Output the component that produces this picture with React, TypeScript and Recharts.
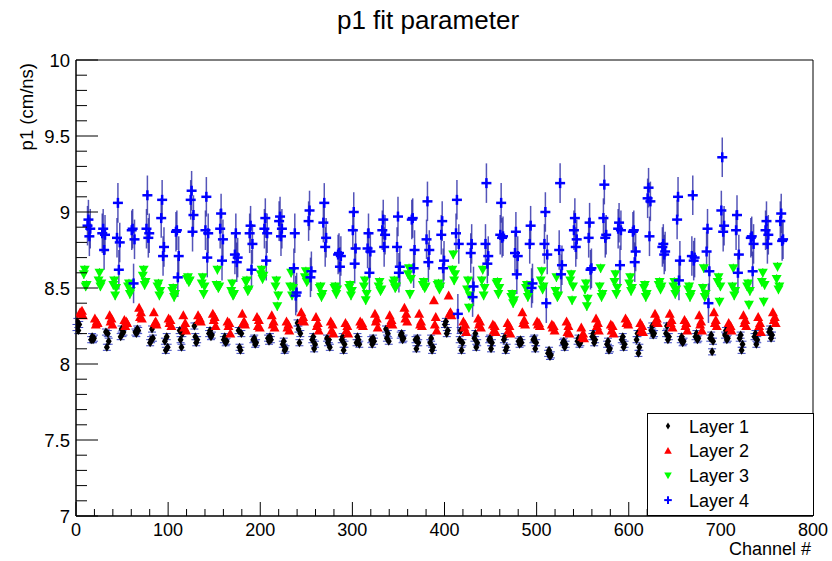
import React from 'react';
import { ScatterChart, Scatter, XAxis, YAxis, ErrorBar, ReferenceArea } from 'recharts';

// p1 fit parameter per channel, four readings per 16-channel block and layer
const LAYER1 = [
  [8.24, 8.28, 8.22, 8.26], [8.16, 8.18, 8.16, 8.17], [8.21, 8.11, 8.20, 8.15], [8.18, 8.23, 8.20, 8.21],
  [8.21, 8.20, 8.23, 8.22], [8.14, 8.16, 8.23, 8.17], [8.15, 8.09, 8.18, 8.11], [8.22, 8.16, 8.11, 8.20],
  [8.25, 8.18, 8.14, 8.16], [8.20, 8.22, 8.18, 8.19], [8.16, 8.18, 8.14, 8.15], [8.22, 8.11, 8.09, 8.20],
  [8.16, 8.17, 8.13, 8.14], [8.17, 8.15, 8.18, 8.16], [8.13, 8.15, 8.09, 8.10], [8.27, 8.23, 8.14, 8.20],
  [8.16, 8.18, 8.10, 8.13], [8.17, 8.14, 8.16, 8.11], [8.16, 8.18, 8.09, 8.13], [8.14, 8.18, 8.16, 8.13],
  [8.16, 8.13, 8.17, 8.15], [8.23, 8.17, 8.20, 8.15], [8.19, 8.20, 8.16, 8.17], [8.16, 8.10, 8.17, 8.14],
  [8.14, 8.17, 8.09, 8.11], [8.26, 8.28, 8.20, 8.22], [8.16, 8.22, 8.09, 8.14], [8.17, 8.20, 8.11, 8.14],
  [8.16, 8.17, 8.10, 8.14], [8.16, 8.18, 8.09, 8.11], [8.15, 8.13, 8.16, 8.14], [8.16, 8.17, 8.10, 8.14],
  [8.07, 8.09, 8.05, 8.06], [8.14, 8.15, 8.11, 8.13], [8.15, 8.17, 8.13, 8.14], [8.18, 8.20, 8.14, 8.16],
  [8.13, 8.15, 8.09, 8.10], [8.16, 8.18, 8.11, 8.13], [8.16, 8.20, 8.07, 8.11], [8.22, 8.25, 8.19, 8.20],
  [8.20, 8.25, 8.16, 8.18], [8.16, 8.18, 8.14, 8.15], [8.18, 8.20, 8.16, 8.17], [8.17, 8.19, 8.08, 8.15],
  [8.19, 8.22, 8.16, 8.17], [8.17, 8.19, 8.09, 8.13], [8.18, 8.20, 8.13, 8.16], [8.21, 8.23, 8.17, 8.19],
];

const LAYER2 = [
  [8.34, 8.33, 8.35, 8.32], [8.30, 8.26, 8.28, 8.27], [8.32, 8.28, 8.30, 8.26], [8.29, 8.25, 8.28, 8.27],
  [8.37, 8.31, 8.34, 8.30], [8.34, 8.27, 8.28, 8.26], [8.30, 8.27, 8.29, 8.25], [8.32, 8.24, 8.27, 8.22],
  [8.32, 8.29, 8.30, 8.28], [8.33, 8.29, 8.31, 8.25], [8.28, 8.25, 8.27, 8.20], [8.33, 8.27, 8.28, 8.26],
  [8.31, 8.25, 8.29, 8.24], [8.32, 8.26, 8.28, 8.24], [8.28, 8.24, 8.26, 8.22], [8.34, 8.29, 8.31, 8.28],
  [8.31, 8.25, 8.27, 8.22], [8.28, 8.22, 8.26, 8.20], [8.27, 8.22, 8.25, 8.20], [8.28, 8.26, 8.27, 8.25],
  [8.33, 8.28, 8.30, 8.24], [8.32, 8.27, 8.29, 8.26], [8.37, 8.30, 8.33, 8.28], [8.33, 8.26, 8.28, 8.25],
  [8.42, 8.26, 8.31, 8.22], [8.45, 8.33, 8.34, 8.32], [8.28, 8.24, 8.26, 8.21], [8.30, 8.26, 8.28, 8.24],
  [8.26, 8.22, 8.25, 8.21], [8.27, 8.22, 8.25, 8.20], [8.34, 8.27, 8.29, 8.26], [8.28, 8.26, 8.27, 8.25],
  [8.26, 8.24, 8.25, 8.22], [8.28, 8.21, 8.25, 8.20], [8.24, 8.18, 8.20, 8.17], [8.30, 8.25, 8.27, 8.22],
  [8.26, 8.22, 8.25, 8.20], [8.30, 8.27, 8.28, 8.26], [8.27, 8.22, 8.25, 8.21], [8.33, 8.28, 8.30, 8.27],
  [8.33, 8.27, 8.29, 8.24], [8.29, 8.25, 8.27, 8.22], [8.32, 8.26, 8.28, 8.22], [8.34, 8.27, 8.29, 8.25],
  [8.27, 8.24, 8.25, 8.22], [8.32, 8.27, 8.29, 8.25], [8.31, 8.25, 8.27, 8.21], [8.34, 8.29, 8.31, 8.27],
];

const LAYER3 = [
  [8.59, 8.62, 8.51, 8.52], [8.55, 8.60, 8.51, 8.53], [8.52, 8.55, 8.45, 8.50], [8.51, 8.53, 8.46, 8.48],
  [8.58, 8.62, 8.52, 8.54], [8.51, 8.53, 8.45, 8.48], [8.48, 8.50, 8.44, 8.46], [8.56, 8.57, 8.54, 8.55],
  [8.53, 8.57, 8.46, 8.51], [8.52, 8.62, 8.50, 8.51], [8.48, 8.53, 8.45, 8.46], [8.54, 8.55, 8.48, 8.49],
  [8.59, 8.62, 8.56, 8.58], [8.51, 8.55, 8.38, 8.45], [8.51, 8.60, 8.45, 8.50], [8.57, 8.61, 8.54, 8.55],
  [8.50, 8.51, 8.44, 8.46], [8.50, 8.51, 8.46, 8.49], [8.50, 8.52, 8.45, 8.48], [8.51, 8.55, 8.42, 8.46],
  [8.51, 8.54, 8.48, 8.49], [8.53, 8.55, 8.50, 8.51], [8.59, 8.63, 8.46, 8.56], [8.52, 8.54, 8.50, 8.51],
  [8.52, 8.53, 8.49, 8.51], [8.62, 8.72, 8.55, 8.59], [8.49, 8.55, 8.37, 8.45], [8.55, 8.62, 8.45, 8.50],
  [8.53, 8.54, 8.46, 8.50], [8.44, 8.46, 8.40, 8.42], [8.50, 8.52, 8.44, 8.46], [8.55, 8.61, 8.49, 8.51],
  [8.48, 8.57, 8.44, 8.45], [8.55, 8.59, 8.42, 8.51], [8.49, 8.53, 8.38, 8.43], [8.51, 8.63, 8.44, 8.46],
  [8.54, 8.59, 8.46, 8.50], [8.53, 8.57, 8.48, 8.50], [8.50, 8.52, 8.44, 8.46], [8.52, 8.54, 8.49, 8.51],
  [8.51, 8.54, 8.46, 8.49], [8.49, 8.51, 8.44, 8.46], [8.50, 8.63, 8.44, 8.46], [8.54, 8.57, 8.41, 8.51],
  [8.51, 8.63, 8.45, 8.48], [8.51, 8.53, 8.39, 8.48], [8.54, 8.60, 8.41, 8.52], [8.56, 8.64, 8.49, 8.51],
];

const LAYER4 = [
  [8.91, 8.95, 8.84, 8.89], [8.86, 8.89, 8.75, 8.85], [8.83, 9.06, 8.62, 8.80], [8.88, 8.89, 8.53, 8.82],
  [8.89, 9.11, 8.83, 8.86], [8.96, 9.08, 8.71, 8.77], [8.87, 8.88, 8.57, 8.71], [9.08, 9.14, 8.87, 8.98],
  [8.88, 9.10, 8.70, 8.86], [8.89, 8.99, 8.68, 8.82], [8.72, 8.86, 8.67, 8.70], [8.86, 8.91, 8.62, 8.79],
  [8.89, 8.96, 8.68, 8.86], [8.94, 8.97, 8.84, 8.89], [8.63, 8.86, 8.45, 8.47], [8.94, 9.01, 8.57, 8.61],
  [8.93, 9.06, 8.77, 8.83], [8.72, 8.73, 8.64, 8.71], [8.88, 9.00, 8.66, 8.76], [8.76, 8.86, 8.60, 8.74],
  [8.88, 8.95, 8.77, 8.85], [8.77, 8.97, 8.60, 8.64], [8.95, 8.96, 8.63, 8.75], [8.82, 9.07, 8.67, 8.75],
  [8.85, 8.94, 8.63, 8.68], [8.86, 9.08, 8.33, 8.79], [8.73, 8.79, 8.44, 8.51], [8.79, 9.19, 8.66, 8.71],
  [8.85, 9.06, 8.83, 8.84], [8.73, 8.87, 8.59, 8.71], [8.79, 8.91, 8.50, 8.53], [8.79, 9.00, 8.40, 8.72],
  [8.75, 9.19, 8.59, 8.65], [8.88, 8.96, 8.77, 8.82], [8.83, 8.93, 8.62, 8.63], [8.96, 9.18, 8.83, 8.85],
  [8.89, 8.93, 8.65, 8.88], [8.87, 8.88, 8.67, 8.74], [9.09, 9.16, 8.84, 9.07], [8.77, 8.79, 8.72, 8.74],
  [8.95, 9.10, 8.55, 8.68], [8.71, 9.11, 8.68, 8.70], [8.74, 8.89, 8.40, 8.61], [9.01, 9.36, 8.87, 8.91],
  [8.88, 8.98, 8.60, 8.72], [8.83, 8.84, 8.61, 8.79], [8.88, 8.94, 8.79, 8.85], [8.94, 8.99, 8.81, 8.82],
];

// typical fit uncertainty per layer
const ERRORS = [0.02, 0.02, 0.03, 0.13];

const Y_MAJOR = [7, 7.5, 8, 8.5, 9, 9.5, 10];
const X_MAJOR = [0, 100, 200, 300, 400, 500, 600, 700, 800];
const Y_TICKS = Array.from({ length: 31 }, (_, i) => 7 + i * 0.1);
const X_TICKS = Array.from({ length: 41 }, (_, i) => i * 20);

const LEGEND = ['Layer 1', 'Layer 2', 'Layer 3', 'Layer 4'];

// block of 16 channels: layer 1 -> 0..3, layer 2 -> 4..7, layer 3 -> 8..11, layer 4 -> 12..15
const toPoints = (blocks: number[][], layer: number) =>
  blocks.flatMap((vals, b) =>
    vals.map((v, j) => ({ x: b * 16 + layer * 4 + j + 0.5, y: v, err: ERRORS[layer] }))
  );

const data1 = toPoints(LAYER1, 0);
const data2 = toPoints(LAYER2, 1);
const data3 = toPoints(LAYER3, 2);
const data4 = toPoints(LAYER4, 3);

const FONT = '"Liberation Sans", Arial, Helvetica, sans-serif';
const isMajor = (list: number[], v: number) => list.some((m) => Math.abs(m - v) < 1e-6);

const Diamond = ({ cx, cy }: any) => (
  <path d={`M${cx},${cy - 4.5} L${cx + 3},${cy} L${cx},${cy + 4.5} L${cx - 3},${cy} Z`} fill="#000" />
);
const TriUp = ({ cx, cy }: any) => (
  <path d={`M${cx - 5},${cy + 4} L${cx + 5},${cy + 4} L${cx},${cy - 5} Z`} fill="#ff0000" />
);
const TriDown = ({ cx, cy }: any) => (
  <path d={`M${cx - 5},${cy - 4} L${cx + 5},${cy - 4} L${cx},${cy + 5} Z`} fill="#00ff00" />
);
const Plus = ({ cx, cy }: any) => (
  <g stroke="#0000ff" strokeWidth={2.5}>
    <line x1={cx - 5} y1={cy} x2={cx + 5} y2={cy} />
    <line x1={cx} y1={cy - 5} x2={cx} y2={cy + 5} />
  </g>
);

const YTick = (props: any) => {
  const { x, y, payload } = props;
  const major = isMajor(Y_MAJOR, payload.value);
  const ax = x + 6;
  return (
    <g>
      <line x1={ax} y1={y} x2={ax + (major ? 22 : 11)} y2={y} stroke="#000" strokeWidth={1} />
      {major && (
        <text x={x} y={y + 6.5} textAnchor="end" fontSize={18.5} fontFamily={FONT} fill="#000">
          {Math.round(payload.value * 10) / 10}
        </text>
      )}
    </g>
  );
};

const XTick = (props: any) => {
  const { x, y, payload } = props;
  const major = isMajor(X_MAJOR, payload.value);
  return (
    <g>
      <line x1={x} y1={y} x2={x} y2={y - (major ? 14 : 7)} stroke="#000" strokeWidth={1} />
      {major && (
        <text x={x} y={y + 19.5} textAnchor="middle" fontSize={18} fontFamily={FONT} fill="#000">
          {payload.value}
        </text>
      )}
    </g>
  );
};

const legendMarker = (i: number, cx: number, cy: number) => {
  if (i === 0) return <path d={`M${cx},${cy - 3.5} L${cx + 2.2},${cy} L${cx},${cy + 3.5} L${cx - 2.2},${cy} Z`} fill="#000" />;
  if (i === 1) return <path d={`M${cx - 3.8},${cy + 3} L${cx + 3.8},${cy + 3} L${cx},${cy - 3.8} Z`} fill="#ff0000" />;
  if (i === 2) return <path d={`M${cx - 3.8},${cy - 3} L${cx + 3.8},${cy - 3} L${cx},${cy + 3.8} Z`} fill="#00ff00" />;
  return (
    <g stroke="#0000ff" strokeWidth={2}>
      <line x1={cx - 3.8} y1={cy} x2={cx + 3.8} y2={cy} />
      <line x1={cx} y1={cy - 3.8} x2={cx} y2={cy + 3.8} />
    </g>
  );
};

export default function App() {
  return (
    <div style={{ position: 'absolute', left: 0, top: 0, width: 832, height: 561, background: '#fff' }}>
      <ScatterChart width={832} height={561} margin={{ top: 60, right: 19, bottom: 15, left: 0 }}>
        <XAxis
          type="number"
          dataKey="x"
          domain={[0, 800]}
          ticks={X_TICKS}
          interval={0}
          height={30}
          tickSize={0}
          tickMargin={0}
          tickLine={false}
          axisLine={{ stroke: '#000' }}
          tick={<XTick />}
          allowDataOverflow
        />
        <YAxis
          type="number"
          dataKey="y"
          domain={[7, 10]}
          ticks={Y_TICKS}
          interval={0}
          width={76}
          tickSize={0}
          tickMargin={6}
          tickLine={false}
          axisLine={{ stroke: '#000' }}
          tick={<YTick />}
          allowDataOverflow
        />
        <ReferenceArea x1={0} x2={800} y1={7} y2={10} fill="none" stroke="#000" strokeWidth={1} />
        <Scatter data={data1} shape={Diamond} isAnimationActive={false}>
          <ErrorBar dataKey="err" direction="y" width={4} stroke="#3a46c0" strokeWidth={1} />
        </Scatter>
        <Scatter data={data2} shape={TriUp} isAnimationActive={false}>
          <ErrorBar dataKey="err" direction="y" width={0} stroke="#ff0000" strokeWidth={1} />
        </Scatter>
        <Scatter data={data3} shape={TriDown} isAnimationActive={false}>
          <ErrorBar dataKey="err" direction="y" width={0} stroke="#30a030" strokeWidth={1} />
        </Scatter>
        <Scatter data={data4} shape={Plus} isAnimationActive={false}>
          <ErrorBar dataKey="err" direction="y" width={0} stroke="#2a2aa8" strokeWidth={1.5} strokeOpacity={0.8} />
        </Scatter>
      </ScatterChart>
      <svg width={832} height={561} style={{ position: 'absolute', left: 0, top: 0, pointerEvents: 'none' }}>
        <text x={428} y={29} textAnchor="middle" fontSize={26} fontFamily={FONT} fill="#000">
          p1 fit parameter
        </text>
        <text
          x={33}
          y={63}
          transform="rotate(-90 33 63)"
          textAnchor="end"
          fontSize={18.5}
          fontFamily={FONT}
          fill="#000"
        >
          p1 (cm/ns)
        </text>
        <text x={811} y={555} textAnchor="end" fontSize={18} fontFamily={FONT} fill="#000">
          Channel #
        </text>
        <rect x={647.5} y={413.5} width={166} height={102} fill="#fff" stroke="#000" strokeWidth={1} />
        {LEGEND.map((name, i) => {
          const cy = 426 + i * 24.7;
          return (
            <g key={name}>
              {legendMarker(i, 668, cy)}
              <text x={689} y={cy + 6.5} fontSize={18} fontFamily={FONT} fill="#000">
                {name}
              </text>
            </g>
          );
        })}
      </svg>
    </div>
  );
}
